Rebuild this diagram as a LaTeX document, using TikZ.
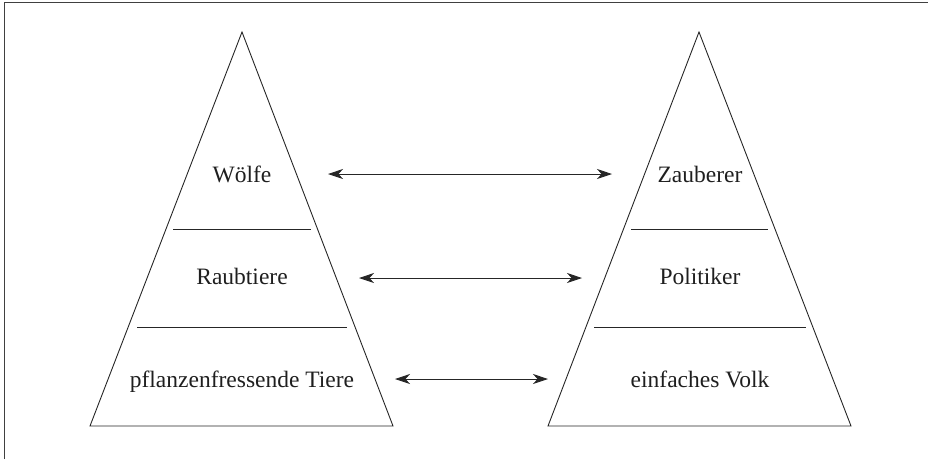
\documentclass[tikz,border=0pt]{standalone}
\usepackage{fontspec}
\setmainfont{Liberation Serif}
\usetikzlibrary{arrows.meta}
\begin{document}
\begin{tikzpicture}[x=1pt,y=-1pt,
  framestyle/.style={draw=black!75,line width=1.3pt},
  tri/.style={draw=black!85,line width=0.9pt,line join=miter},
  divider/.style={draw=black!85,line width=0.9pt},
  lbl/.style={anchor=base,inner sep=0pt,text=black!88,font=\fontsize{23.5}{26}\selectfont},
  link/.style={draw=black!85,line width=0.9pt,{Stealth[length=15pt,width=10pt,inset=4.5pt]}-{Stealth[length=15pt,width=10pt,inset=4.5pt]}}]
\useasboundingbox (0,0) rectangle (928,459);
% frame (top and left edges)
\coordinate (fbl) at (4.7,459);
\coordinate (ftl) at (4.7,2.7);
\coordinate (ftr) at (928,2.7);
\draw[framestyle] (fbl) -- (ftl) -- (ftr);
% left pyramid
\coordinate (lb1) at (90,426);
\coordinate (lap) at (242,32);
\coordinate (lb2) at (393,426);
\draw[tri] (lb1) -- (lap) -- (lb2) -- cycle;
\coordinate (ld1a) at (173,229); \coordinate (ld1b) at (311,229);
\coordinate (ld2a) at (137,327); \coordinate (ld2b) at (347,327);
\draw[divider] (ld1a) -- (ld1b);
\draw[divider] (ld2a) -- (ld2b);
% right pyramid
\coordinate (rb1) at (548,426);
\coordinate (rap) at (699,32);
\coordinate (rb2) at (851,426);
\draw[tri] (rb1) -- (rap) -- (rb2) -- cycle;
\coordinate (rd1a) at (631,229); \coordinate (rd1b) at (768,229);
\coordinate (rd2a) at (594,327); \coordinate (rd2b) at (806,327);
\draw[divider] (rd1a) -- (rd1b);
\draw[divider] (rd2a) -- (rd2b);
% labels
\node[lbl] (wolf) at (242,182) {Wölfe};
\node[lbl] (raub) at (242,284.3) {Raubtiere};
\node[lbl] (pfl) at (242,387.3) {pflanzenfressende Tiere};
\node[lbl] (zaub) at (700,182) {Zauberer};
\node[lbl] (pol) at (700,284.3) {Politiker};
\node[lbl] (volk) at (700,387.3) {einfaches Volk};
% connectors
\coordinate (a1l) at (328,174); \coordinate (a1r) at (612,174);
\coordinate (a2l) at (359,278); \coordinate (a2r) at (582,278);
\coordinate (a3l) at (395,379); \coordinate (a3r) at (548,379);
\draw[link] (a1l) -- (a1r);
\draw[link] (a2l) -- (a2r);
\draw[link] (a3l) -- (a3r);
\end{tikzpicture}
\end{document}
